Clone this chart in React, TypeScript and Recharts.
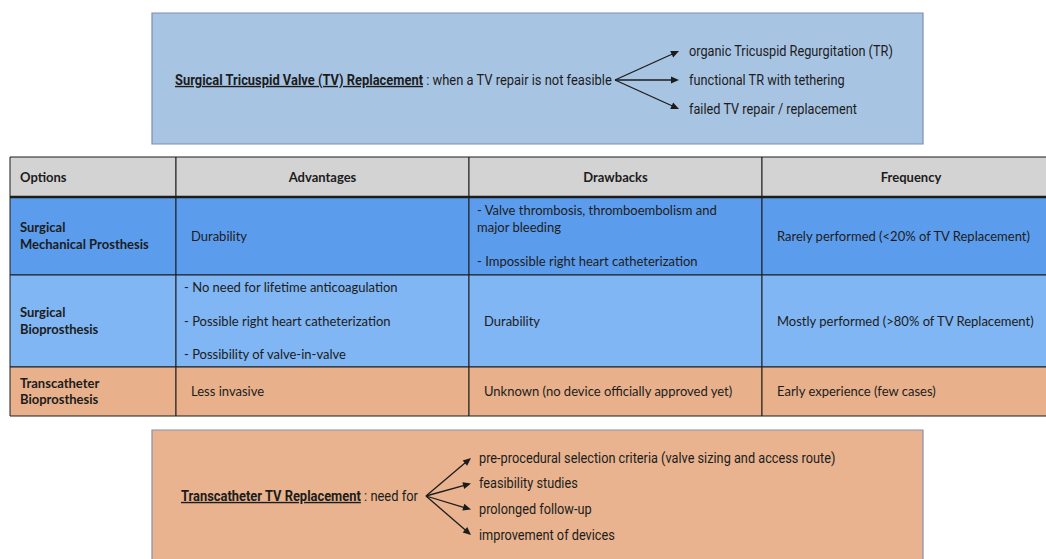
import { ComposedChart, XAxis, YAxis, ReferenceArea, ReferenceLine, ReferenceDot } from 'recharts';

// top note
const topTitle = 'Surgical Tricuspid Valve (TV) Replacement';
const topTail = ' : when a TV repair is not feasible';
const topItems = ['organic Tricuspid Regurgitation (TR)', 'functional TR with tethering', 'failed TV repair / replacement'];

// table content
const headers = ['Options', 'Advantages', 'Drawbacks', 'Frequency'];
const options = [
  ['Surgical', 'Mechanical Prosthesis'],
  ['Surgical', 'Bioprosthesis'],
  ['Transcatheter', 'Bioprosthesis'],
];
const advantages = [
  ['Durability'],
  ['- No need for lifetime anticoagulation', '', '- Possible right heart catheterization', '', '- Possibility of valve-in-valve'],
  ['Less invasive'],
];
const drawbacks = [
  ['- Valve thrombosis, thromboembolism and', 'major bleeding', '', '- Impossible right heart catheterization'],
  ['Durability'],
  ['Unknown (no device officially approved yet)'],
];
const frequency = [
  ['Rarely performed (<20% of TV Replacement)'],
  ['Mostly performed (>80% of TV Replacement)'],
  ['Early experience (few cases)'],
];

// bottom note
const bottomTitle = 'Transcatheter TV Replacement';
const bottomTail = ' : need for';
const bottomItems = [
  'pre-procedural selection criteria (valve sizing and access route)',
  'feasibility studies',
  'prolonged follow-up',
  'improvement of devices',
];

// layout
const W = 1046;
const H = 559;
const colX = [10, 176, 469, 762, 1060];
const rowY = [157, 197, 275, 367, 416];
const rowFill = ['#5c9cec', '#80b6f3', '#e8b18c'];
const headFill = '#d4d3d3';
const lineH = 16.8;
const ink = '#1c1c1c';
const tableFont = 'Lato, "Noto Sans", sans-serif';
const noteFont = 'Roboto, "Noto Sans", sans-serif';
const noteSize = 14;
const noteSx = 0.91; // squeeze to look like the condensed face of the original
const titleSx = 0.922;

const topBox = { x1: 152, x2: 923, y1: 13, y2: 144, fill: '#a8c4e3' };
const bottomBox = { x1: 152, x2: 923, y1: 430, y2: 575, fill: '#e8b38e' };
const topOrigin = { x: 615, y: 80 };
const topItemX = 689;
const topItemY = [51, 80, 109];
const bottomOrigin = { x: 426, y: 496 };
const bottomItemX = 479;
const bottomItemY = [458, 483.5, 509.5, 535];

type Txt = {
  x: number;
  y: number;
  lines: string[];
  anchor?: 'start' | 'middle' | 'end';
  bold?: boolean;
  font?: string;
  size?: number;
  sx?: number;
};

function textDot(key: string, t: Txt) {
  const n = t.lines.length;
  const shape = (p: any) => (
    <text
      x={0}
      y={0}
      transform={`translate(${p.cx},${p.cy}) scale(${t.sx ?? 1},1)`}
      textAnchor={t.anchor ?? 'start'}
      fontFamily={t.font ?? tableFont}
      fontSize={t.size ?? 13}
      fontWeight={t.bold ? 700 : 400}
      fill={ink}
    >
      {t.lines.map((ln, i) => (
        <tspan key={i} x={0} dy={i === 0 ? (-(n - 1) / 2) * lineH + 4.5 : lineH}>
          {ln === '' ? ' ' : ln}
        </tspan>
      ))}
    </text>
  );
  return <ReferenceDot key={key} x={t.x} y={t.y} r={0} ifOverflow="visible" shape={shape} />;
}

function noteTitle(key: string, x: number, y: number, title: string, tail: string) {
  const shape = (p: any) => (
    <text
      x={0}
      y={4.8}
      transform={`translate(${p.cx},${p.cy}) scale(${titleSx},1)`}
      fontFamily={noteFont}
      fontSize={noteSize}
      fill={ink}
    >
      <tspan fontWeight={700} style={{ textDecoration: 'underline' }}>{title}</tspan>
      <tspan>{tail}</tspan>
    </text>
  );
  return <ReferenceDot key={key} x={x} y={y} r={0} ifOverflow="visible" shape={shape} />;
}

function arrow(key: string, from: { x: number; y: number }, to: { x: number; y: number }) {
  const ang = Math.atan2(to.y - from.y, to.x - from.x);
  const back = { x: to.x - Math.cos(ang) * 6, y: to.y - Math.sin(ang) * 6 };
  const head = (p: any) => (
    <polygon
      points="0,0 -8,-3.5 -8,3.5"
      fill={ink}
      transform={`translate(${p.cx},${p.cy}) rotate(${(ang * 180) / Math.PI})`}
    />
  );
  return [
    <ReferenceLine
      key={key + '-l'}
      segment={[{ x: from.x, y: from.y }, back]}
      stroke={ink}
      strokeWidth={1.3}
      ifOverflow="visible"
    />,
    <ReferenceDot key={key + '-h'} x={to.x} y={to.y} r={0} ifOverflow="visible" shape={head} />,
  ];
}

export default function App() {
  const cols = [options, advantages, drawbacks, frequency];
  const cells: JSX.Element[] = [];
  const texts: JSX.Element[] = [];

  headers.forEach((h, c) => {
    cells.push(
      <ReferenceArea key={'h' + c} x1={colX[c]} x2={colX[c + 1]} y1={rowY[0]} y2={rowY[1]}
        fill={headFill} fillOpacity={1} stroke={ink} strokeWidth={1} ifOverflow="visible" />,
    );
    const mid = (rowY[0] + rowY[1]) / 2;
    texts.push(
      textDot('ht' + c, c === 0
        ? { x: colX[0] + 10, y: mid, lines: [h], bold: true }
        : { x: (colX[c] + colX[c + 1]) / 2, y: mid, lines: [h], bold: true, anchor: 'middle' }),
    );
  });

  for (let r = 0; r < 3; r++) {
    const mid = (rowY[r + 1] + rowY[r + 2]) / 2;
    cols.forEach((col, c) => {
      cells.push(
        <ReferenceArea key={`c${r}-${c}`} x1={colX[c]} x2={colX[c + 1]} y1={rowY[r + 1]} y2={rowY[r + 2]}
          fill={rowFill[r]} fillOpacity={1} stroke={ink} strokeWidth={1} ifOverflow="visible" />,
      );
      const lines = col[r];
      const bullet = lines.some((l) => l.startsWith('-'));
      const pad = c === 0 ? 10 : bullet ? 8 : 15;
      texts.push(textDot(`t${r}-${c}`, { x: colX[c] + pad, y: mid, lines, bold: c === 0 }));
    });
  }

  const note = { font: noteFont, size: noteSize, sx: noteSx };

  return (
    <div style={{ position: 'absolute', left: 0, top: 0, background: '#fff' }}>
      <ComposedChart width={W} height={H} data={[]} margin={{ top: 0, right: 0, bottom: 0, left: 0 }}>
        <XAxis type="number" dataKey="x" domain={[0, W]} allowDataOverflow hide />
        <YAxis type="number" dataKey="y" domain={[0, H]} allowDataOverflow reversed hide width={0} />

        <ReferenceArea x1={topBox.x1} x2={topBox.x2} y1={topBox.y1} y2={topBox.y2}
          fill={topBox.fill} fillOpacity={1} stroke="#7f8db3" strokeWidth={1.2} ifOverflow="visible" />
        <ReferenceArea x1={bottomBox.x1} x2={bottomBox.x2} y1={bottomBox.y1} y2={bottomBox.y2}
          fill={bottomBox.fill} fillOpacity={1} stroke="#8a8ea8" strokeWidth={1.2} ifOverflow="visible" />

        {cells}
        <ReferenceLine segment={[{ x: colX[0], y: rowY[1] }, { x: colX[4], y: rowY[1] }]}
          stroke={ink} strokeWidth={2.6} ifOverflow="visible" />

        {noteTitle('topTitle', 175, topOrigin.y, topTitle, topTail)}
        {topItems.map((it, i) => textDot('ti' + i, { x: topItemX, y: topItemY[i], lines: [it], ...note }))}
        {topItemY.map((y, i) => arrow('ta' + i, topOrigin, { x: topItemX - 10, y }))}

        {noteTitle('bottomTitle', 181, bottomOrigin.y, bottomTitle, bottomTail)}
        {bottomItems.map((it, i) => textDot('bi' + i, { x: bottomItemX, y: bottomItemY[i], lines: [it], ...note }))}
        {bottomItemY.map((y, i) => arrow('ba' + i, bottomOrigin, { x: bottomItemX - 8, y }))}

        {texts}
      </ComposedChart>
    </div>
  );
}
